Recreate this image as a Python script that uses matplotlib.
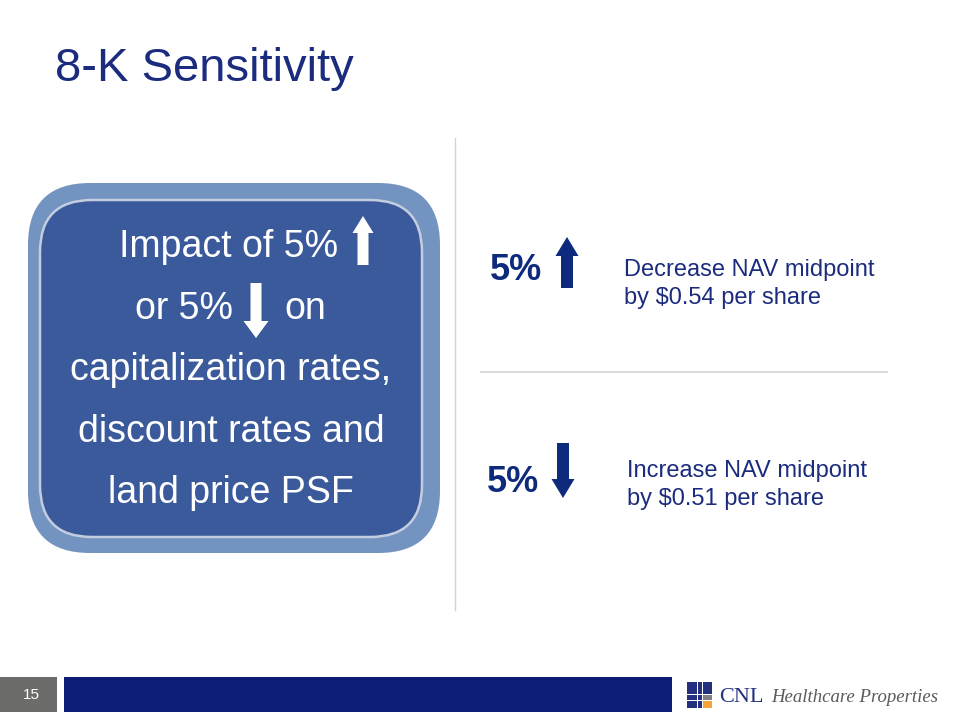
import matplotlib
matplotlib.use("Agg")
import matplotlib.pyplot as plt
from matplotlib.patches import FancyBboxPatch, Rectangle

# slide content
title = "8-K Sensitivity"
rate_change = 5  # percent
box_lines = ["capitalization rates,", "discount rates and", "land price PSF"]
nav_decrease = 0.54  # per share, when rates go up
nav_increase = 0.51  # per share, when rates go down
page_no = "15"

navy = "#1B2B7E"
dark_navy = "#0E2A7C"
bar_navy = "#0B1D77"
box_outer = "#7394C0"
box_inner = "#3B5A9B"
ring = "#C3CDDF"

plt.rcParams['font.family'] = ['Liberation Sans', 'DejaVu Sans']

fig = plt.figure(figsize=(9.6, 7.2), dpi=100)
ax = fig.add_axes([0, 0, 1, 1])
ax.set_xlim(0, 960)
ax.set_ylim(720, 0)
ax.axis("off")

# title
ax.text(55, 69, title, fontsize=34, color=navy, va="center", ha="left")

# separators
ax.plot([455, 455], [138, 610], color="#D3D3D3", lw=1)
ax.plot([481, 887], [372, 372], color="#D3D3D3", lw=1.2)

# rounded box
ax.add_patch(FancyBboxPatch((28, 183), 412, 370, boxstyle="round,pad=0,rounding_size=62",
                            fc=box_outer, ec="none"))
ax.add_patch(FancyBboxPatch((40, 200), 382, 337, boxstyle="round,pad=0,rounding_size=52",
                            fc=box_inner, ec=ring, lw=1.8))

fs_box = 27
ax.text(229, 247, f"Impact of {rate_change}%", fontsize=fs_box, color="white", ha="center", va="center")
ax.text(135, 309, f"or {rate_change}%", fontsize=fs_box, color="white", ha="left", va="center")
ax.text(284, 309, "on", fontsize=fs_box, color="white", ha="left", va="center")
for i, line in enumerate(box_lines):
    ax.text(231, 370 + i * 61.5, line, fontsize=fs_box, color="white", ha="center", va="center")

def block_arrow(x, y0, y1, color, shaft, head_w, head_l):
    ax.arrow(x, y0, 0, y1 - y0, width=shaft, head_width=head_w, head_length=head_l,
             length_includes_head=True, fc=color, ec="none")

# white arrows inside box
block_arrow(363, 265, 216, "white", 11, 21, 17)
block_arrow(256, 283, 338, "white", 11, 25, 17)

# right side
fs_r = 17
ax.text(490, 270, f"{rate_change}%", fontsize=26, fontweight="bold", color=dark_navy, ha="left", va="center")
block_arrow(567, 288, 237, dark_navy, 12, 23, 19)
ax.text(624, 270, "Decrease NAV midpoint", fontsize=fs_r, color=navy, ha="left", va="center")
ax.text(624, 298, f"by ${nav_decrease:.2f} per share", fontsize=fs_r, color=navy, ha="left", va="center")

ax.text(487, 483, f"{rate_change}%", fontsize=26, fontweight="bold", color=dark_navy, ha="left", va="center")
block_arrow(563, 443, 498, dark_navy, 12, 23, 19)
ax.text(627, 471, "Increase NAV midpoint", fontsize=fs_r, color=navy, ha="left", va="center")
ax.text(627, 499, f"by ${nav_increase:.2f} per share", fontsize=fs_r, color=navy, ha="left", va="center")

# footer
ax.add_patch(Rectangle((0, 677), 57, 35, fc="#6C6D6B", ec="none"))
ax.text(31, 695, page_no, fontsize=11, color="white", ha="center", va="center")
ax.add_patch(Rectangle((64, 677), 608, 35, fc=bar_navy, ec="none"))

# logo squares
logo_navy = "#23307F"
for (x, y, w, h, c) in [(687, 682, 10, 12, logo_navy), (698, 682, 4, 12, logo_navy),
                        (703, 682, 9, 12, logo_navy), (687, 695, 10, 5, logo_navy),
                        (698, 695, 4, 5, logo_navy), (703, 695, 9, 5, "#808080"),
                        (687, 701, 10, 7, logo_navy), (698, 701, 4, 7, logo_navy),
                        (703, 701, 9, 7, "#F4A535")]:
    ax.add_patch(Rectangle((x, y), w, h, fc=c, ec="none"))
ax.text(719, 697, "CNL", fontsize=16, family=["Liberation Serif"], color=logo_navy, ha="left", va="center")
ax.text(771, 697, "Healthcare Properties", fontsize=13.5, family=["Liberation Serif"], style="italic",
        color="#5A5A5A", ha="left", va="center")

fig.savefig("out.png", dpi=100)
